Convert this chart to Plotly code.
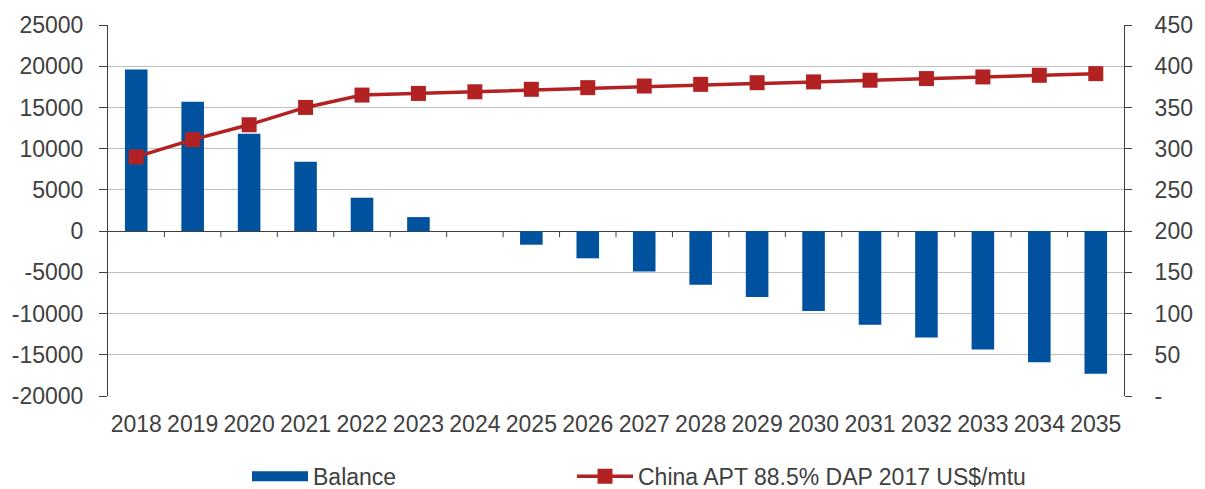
import plotly.graph_objects as go

years = [str(y) for y in range(2018, 2036)]
balance = [19600, 15700, 11800, 8400, 4050, 1700, 0, -1650, -3300, -4900,
           -6500, -8000, -9700, -11350, -12900, -14350, -15900, -17300]
apt_price = [290, 311, 329, 350, 365, 367, 369, 372, 374, 376,
             378, 380, 381, 383, 385, 387, 389, 391]

left_ticks = list(range(-20000, 25001, 5000))
left_ticktext = [str(v) for v in left_ticks]
right_ticks = list(range(0, 451, 50))
right_ticktext = ["-"] + [str(v) for v in right_ticks[1:]]

BLUE = "#00519E"
RED = "#B22222"
TEXT = "#404040"
GRID = "#C0C0C0"
FONT = "Liberation Sans, Arial, sans-serif"
FS = 23

fig = go.Figure()
fig.add_trace(go.Bar(
    x=years, y=balance, name="Balance",
    marker=dict(color=BLUE, line=dict(width=0)),
    yaxis="y", showlegend=False,
))
# wide swatch for the bar series in the legend
fig.add_trace(go.Scatter(
    x=[None], y=[None], name="Balance", mode="lines",
    line=dict(color=BLUE, width=12),
    legend="legend",
))
fig.add_trace(go.Scatter(
    x=years, y=apt_price, name="China APT 88.5% DAP 2017 US$/mtu",
    mode="lines+markers",
    line=dict(color=RED, width=3.5),
    marker=dict(symbol="square", size=15, color=RED),
    yaxis="y2", legend="legend2",
))

# category tick marks along the zero line, between the categories
shapes = []
for i in range(len(years) - 1):
    shapes.append(dict(
        type="line", xref="x", yref="y",
        x0=i + 0.5, x1=i + 0.5,
        ysizemode="pixel", yanchor=0, y0=0, y1=-6,
        line=dict(color=TEXT, width=1),
    ))

legend_common = dict(
    orientation="h",
    xref="container", yref="container",
    y=0.026, xanchor="left", yanchor="middle",
    itemwidth=56,
    font=dict(family=FONT, size=FS, color=TEXT),
    bgcolor="rgba(0,0,0,0)",
)

fig.update_layout(
    width=1205, height=489,
    margin=dict(l=106, r=76, t=22, b=93),
    paper_bgcolor="white", plot_bgcolor="white",
    font=dict(family=FONT, size=FS, color=TEXT),
    bargap=0.6,
    showlegend=True,
    legend=dict(x=247 / 1205, **legend_common),
    legend2=dict(x=572 / 1205, **legend_common),
    xaxis=dict(
        type="category",
        range=[-0.5, len(years) - 0.5],
        showgrid=False, showline=False, ticks="",
        ticklabelstandoff=12,
        tickfont=dict(size=FS, color=TEXT),
    ),
    yaxis=dict(
        range=[-20000, 25000],
        tickvals=left_ticks, ticktext=left_ticktext,
        showgrid=True, gridcolor=GRID, gridwidth=1,
        zeroline=True, zerolinecolor=TEXT, zerolinewidth=1,
        showline=True, linecolor=TEXT, linewidth=1,
        ticks="outside", ticklen=8, tickcolor=TEXT,
        ticklabelstandoff=11,
        tickfont=dict(size=FS, color=TEXT),
    ),
    yaxis2=dict(
        range=[0, 450],
        tickvals=right_ticks, ticktext=right_ticktext,
        overlaying="y", side="right",
        showgrid=False, zeroline=False,
        showline=True, linecolor=TEXT, linewidth=1,
        ticks="outside", ticklen=7, tickcolor=TEXT,
        ticklabelstandoff=18,
        tickfont=dict(size=FS, color=TEXT),
    ),
    shapes=shapes,
)

fig.write_html("out.html")
